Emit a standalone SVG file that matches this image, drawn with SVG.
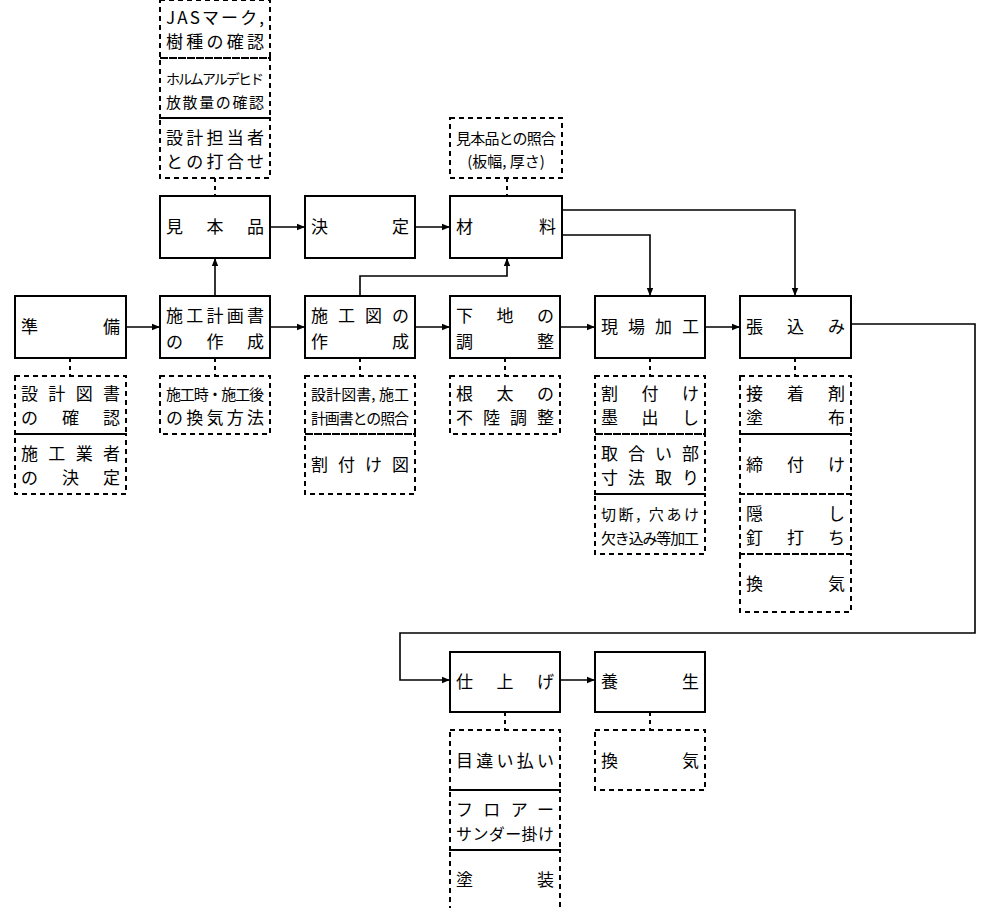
<svg xmlns="http://www.w3.org/2000/svg" width="1000" height="908" viewBox="0 0 1000 908">
<defs>
<style>
.n{fill:#fff;stroke:#000;stroke-width:2}
.d{fill:none;stroke:#000;stroke-width:2;stroke-dasharray:5,4}
.c{fill:none;stroke:#000;stroke-width:1.6}
.dc{fill:none;stroke:#000;stroke-width:2;stroke-dasharray:4,4}
text{font-family:"Noto Sans CJK JP",sans-serif;font-size:17px;fill:#000}
</style>
<marker id="a" viewBox="0 0 10 10" refX="10" refY="5" markerWidth="8" markerHeight="8" orient="auto" markerUnits="userSpaceOnUse"><path d="M0,1 L10,5 L0,9 z"/></marker>
</defs>
<rect width="1000" height="908" fill="#fff"/>
<g id="connectors">
<path class="c" d="M270,227 H305" marker-end="url(#a)"/>
<path class="c" d="M415,227 H450" marker-end="url(#a)"/>
<path class="c" d="M215,296 V258" marker-end="url(#a)"/>
<path class="c" d="M360,296 V276 H507 V258" marker-end="url(#a)"/>
<path class="c" d="M562,210 H795 V296" marker-end="url(#a)"/>
<path class="c" d="M562,235 H650 V296" marker-end="url(#a)"/>
<path class="c" d="M126,327 H160" marker-end="url(#a)"/>
<path class="c" d="M270,327 H305" marker-end="url(#a)"/>
<path class="c" d="M415,327 H450" marker-end="url(#a)"/>
<path class="c" d="M560,327 H595" marker-end="url(#a)"/>
<path class="c" d="M705,327 H740" marker-end="url(#a)"/>
<path class="c" d="M851,324 H975 V633 H400 V680 H450" marker-end="url(#a)"/>
<path class="c" d="M560,680 H595" marker-end="url(#a)"/>
<path class="dc" d="M215,178 V196 M507,178 V196 M70,358 V376 M215,358 V376 M360,358 V376 M505,358 V376 M650,358 V376 M795,358 V376 M505,712 V730 M650,712 V730"/>
</g>
<g id="n1"><rect class="n" x="160" y="196" width="110" height="62"/><text x="166" y="233" textLength="98" lengthAdjust="spacing">見本品</text></g>
<g id="n2"><rect class="n" x="305" y="196" width="110" height="62"/><text x="311" y="233" textLength="98" lengthAdjust="spacing">決定</text></g>
<g id="n3"><rect class="n" x="450" y="196" width="112" height="62"/><text x="456" y="233" textLength="100" lengthAdjust="spacing">材料</text></g>
<g id="n4"><rect class="n" x="15" y="296" width="111" height="62"/><text x="21" y="333" textLength="99" lengthAdjust="spacing">準備</text></g>
<g id="n5"><rect class="n" x="160" y="296" width="110" height="62"/><text x="166" y="322" textLength="98" lengthAdjust="spacing">施工計画書</text><text x="166" y="348" textLength="98" lengthAdjust="spacing">の作成</text></g>
<g id="n6"><rect class="n" x="305" y="296" width="110" height="62"/><text x="311" y="322" textLength="98" lengthAdjust="spacing">施工図の</text><text x="311" y="348" textLength="98" lengthAdjust="spacing">作成</text></g>
<g id="n7"><rect class="n" x="450" y="296" width="110" height="62"/><text x="456" y="322" textLength="98" lengthAdjust="spacing">下地の</text><text x="456" y="348" textLength="98" lengthAdjust="spacing">調整</text></g>
<g id="n8"><rect class="n" x="595" y="296" width="110" height="62"/><text x="601" y="333" textLength="98" lengthAdjust="spacing">現場加工</text></g>
<g id="n9"><rect class="n" x="740" y="296" width="111" height="62"/><text x="746" y="333" textLength="99" lengthAdjust="spacing">張込み</text></g>
<g id="n10"><rect class="n" x="450" y="652" width="110" height="60"/><text x="456" y="688" textLength="98" lengthAdjust="spacing">仕上げ</text></g>
<g id="n11"><rect class="n" x="595" y="652" width="110" height="60"/><text x="601" y="688" textLength="98" lengthAdjust="spacing">養生</text></g>
<g id="notes">
<rect class="d" x="160" y="0" width="110" height="58"/><text x="166" y="24" textLength="98" lengthAdjust="spacing">JASマーク,</text><text x="166" y="48" textLength="98" lengthAdjust="spacing">樹種の確認</text>
<rect class="d" x="160" y="58" width="110" height="60"/><text x="166" y="84" textLength="98" lengthAdjust="spacing" style="font-size:14px">ホルムアルデヒド</text><text x="166" y="108" textLength="98" lengthAdjust="spacing" style="font-size:15px">放散量の確認</text>
<rect class="d" x="160" y="118" width="110" height="60"/><text x="166" y="144" textLength="98" lengthAdjust="spacing">設計担当者</text><text x="166" y="168" textLength="98" lengthAdjust="spacing">との打合せ</text>
<rect class="d" x="450" y="118" width="112" height="60"/><text x="456" y="144" textLength="100" lengthAdjust="spacing" style="font-size:15px">見本品との照合</text><text x="506" y="167" text-anchor="middle" style="font-size:15px">(板幅, 厚さ)</text>
<rect class="d" x="15" y="376" width="111" height="58"/><text x="21" y="400" textLength="99" lengthAdjust="spacing">設計図書</text><text x="21" y="424" textLength="99" lengthAdjust="spacing">の確認</text>
<rect class="d" x="15" y="434" width="111" height="60"/><text x="21" y="460" textLength="99" lengthAdjust="spacing">施工業者</text><text x="21" y="484" textLength="99" lengthAdjust="spacing">の決定</text>
<rect class="d" x="160" y="376" width="110" height="58"/><text x="166" y="400" textLength="98" lengthAdjust="spacing" style="font-size:15px">施工時・施工後</text><text x="166" y="424" textLength="98" lengthAdjust="spacing">の換気方法</text>
<rect class="d" x="305" y="376" width="110" height="58"/><text x="311" y="400" textLength="98" lengthAdjust="spacing" style="font-size:15px">設計図書, 施工</text><text x="311" y="424" textLength="98" lengthAdjust="spacing" style="font-size:15px">計画書との照合</text>
<rect class="d" x="305" y="434" width="110" height="60"/><text x="311" y="471" textLength="98" lengthAdjust="spacing">割付け図</text>
<rect class="d" x="450" y="376" width="110" height="58"/><text x="456" y="400" textLength="98" lengthAdjust="spacing">根太の</text><text x="456" y="424" textLength="98" lengthAdjust="spacing">不陸調整</text>
<rect class="d" x="595" y="376" width="110" height="58"/><text x="601" y="400" textLength="98" lengthAdjust="spacing">割付け</text><text x="601" y="424" textLength="98" lengthAdjust="spacing">墨出し</text>
<rect class="d" x="595" y="434" width="110" height="60"/><text x="601" y="460" textLength="98" lengthAdjust="spacing">取合い部</text><text x="601" y="484" textLength="98" lengthAdjust="spacing">寸法取り</text>
<rect class="d" x="595" y="494" width="110" height="60"/><text x="601" y="520" textLength="98" lengthAdjust="spacing" style="font-size:15px">切断, 穴あけ</text><text x="601" y="544" textLength="98" lengthAdjust="spacing" style="font-size:15px">欠き込み等加工</text>
<rect class="d" x="740" y="376" width="111" height="58"/><text x="746" y="400" textLength="99" lengthAdjust="spacing">接着剤</text><text x="746" y="424" textLength="99" lengthAdjust="spacing">塗布</text>
<rect class="d" x="740" y="434" width="111" height="60"/><text x="746" y="471" textLength="99" lengthAdjust="spacing">締付け</text>
<rect class="d" x="740" y="494" width="111" height="60"/><text x="746" y="520" textLength="99" lengthAdjust="spacing">隠し</text><text x="746" y="544" textLength="99" lengthAdjust="spacing">釘打ち</text>
<rect class="d" x="740" y="554" width="111" height="58"/><text x="746" y="590" textLength="99" lengthAdjust="spacing">換気</text>
<rect class="d" x="450" y="730" width="110" height="60"/><text x="456" y="767" textLength="98" lengthAdjust="spacing">目違い払い</text>
<rect class="d" x="450" y="790" width="110" height="60"/><text x="456" y="816" textLength="98" lengthAdjust="spacing">フロアー</text><text x="456" y="840" textLength="98" lengthAdjust="spacing" style="font-size:16px">サンダー掛け</text>
<rect class="d" x="450" y="850" width="110" height="60"/><text x="456" y="886" textLength="98" lengthAdjust="spacing">塗装</text>
<rect class="d" x="595" y="730" width="110" height="60"/><text x="601" y="767" textLength="98" lengthAdjust="spacing">換気</text>
</g>
</svg>
